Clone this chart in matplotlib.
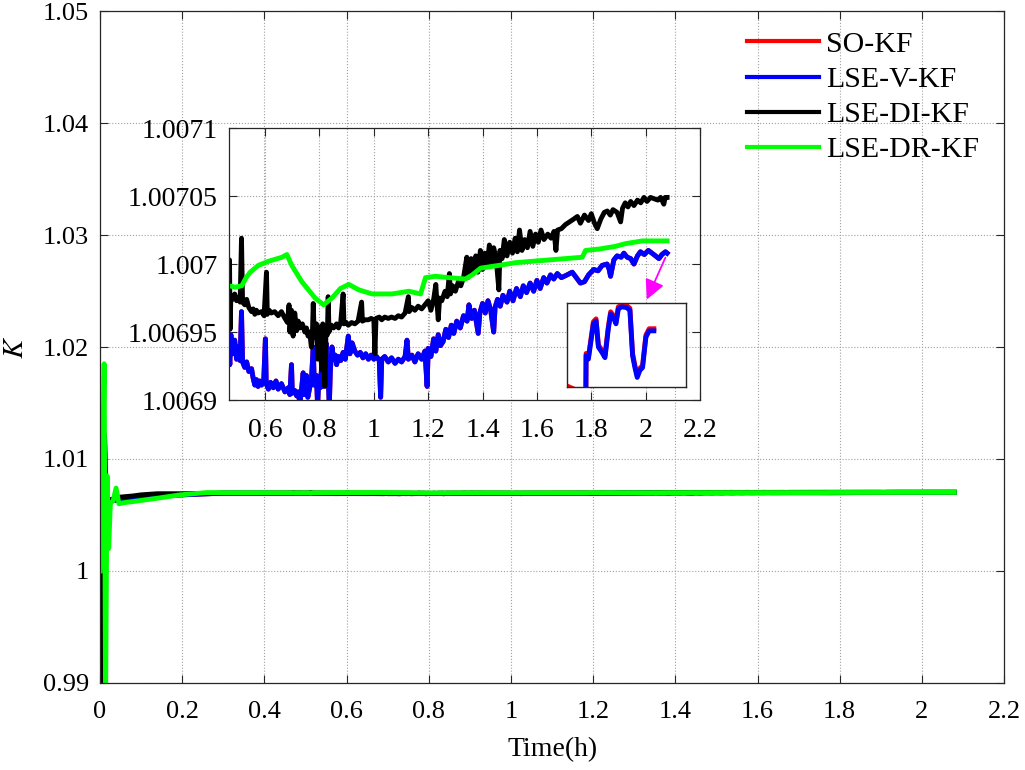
import matplotlib
matplotlib.use("Agg")
import matplotlib.pyplot as plt

plt.rcParams['font.family'] = ['Liberation Serif', 'DejaVu Serif']
plt.rcParams['mathtext.fontset'] = 'stix'

# ---- data ----
labels = ['SO-KF', 'LSE-V-KF', 'LSE-DI-KF', 'LSE-DR-KF']
colors = ['#ff0000', '#0000ff', '#000000', '#00ff00']

# start-up transient (t < 0.47 h), K values
t_green_early = [0.000, 0.005, 0.010, 0.0135, 0.017, 0.021, 0.025, 0.032, 0.039, 0.046,
                 0.058, 0.080, 0.100, 0.140, 0.195, 0.260, 0.330, 0.400]
k_green_early = [1.0000, 1.0050, 1.0185, 0.9880, 1.0085, 1.0020, 1.0060, 1.0063, 1.0074, 1.0060,
                 1.0061, 1.0062, 1.0063, 1.0065, 1.0068, 1.00700, 1.00699, 1.00699]

t_blue_early = [0.000, 0.006, 0.011, 0.015, 0.020, 0.028, 0.040, 0.060, 0.100, 0.150,
                0.200, 0.300, 0.400]
k_blue_early = [1.0000, 0.9890, 1.0120, 1.0062, 1.0058, 1.0064, 1.0063, 1.0064, 1.0066, 1.0067,
                1.0068, 1.00695, 1.00694]

t_red_early = [0.000, 0.006, 0.011, 0.015, 0.020, 0.028, 0.040, 0.060, 0.100, 0.150,
               0.200, 0.300, 0.400]
k_red_early = [1.0000, 0.9890, 1.0122, 1.0063, 1.0058, 1.0064, 1.0063, 1.0064, 1.0066, 1.0067,
               1.0068, 1.00695, 1.00694]

t_black_early = [0.000, 0.006, 0.011, 0.015, 0.020, 0.030, 0.050, 0.080, 0.100, 0.140,
                 0.200, 0.300, 0.400]
k_black_early = [1.0000, 0.9890, 1.0100, 1.0066, 1.0060, 1.0064, 1.0066, 1.0067, 1.0068, 1.0069,
                 1.0069, 1.00695, 1.00697]

# steady part (t >= 0.467 h),
# stored as (K - 1.0069) in units of 1e-5
K_BASE = 1.0069
K_UNIT = 1e-5

t_green = [0.467, 0.490, 0.514, 0.530, 0.545, 0.575, 0.612, 0.662, 0.680, 0.698,
           0.735, 0.784, 0.815, 0.846, 0.877, 0.908, 0.945, 0.994, 1.067, 1.129,
           1.172, 1.190, 1.227, 1.276, 1.337, 1.362, 1.393, 1.460, 1.521, 1.583,
           1.644, 1.705, 1.767, 1.779, 1.828, 1.889, 1.926, 1.988, 2.079]
dk_green = [8.4, 8.3, 8.4, 9.0, 9.4, 9.9, 10.2, 10.5, 10.7, 9.9,
            8.7, 7.5, 7.0, 7.5, 8.2, 8.5, 8.1, 7.8, 7.8, 8.0,
            7.8, 9.0, 9.1, 9.0, 8.9, 9.2, 9.7, 9.9, 10.1, 10.2,
            10.3, 10.4, 10.5, 11.0, 11.1, 11.3, 11.5, 11.7, 11.7]

t_black = [0.467, 0.469, 0.471, 0.474, 0.480, 0.488, 0.495, 0.501, 0.508, 0.513,
           0.517, 0.525, 0.532, 0.540, 0.550, 0.556, 0.562, 0.568, 0.574, 0.587,
           0.596, 0.605, 0.608, 0.615, 0.623, 0.635, 0.648, 0.660, 0.673, 0.682,
           0.688, 0.691, 0.697, 0.703, 0.709, 0.716, 0.722, 0.728, 0.737, 0.746,
           0.752, 0.758, 0.764, 0.770, 0.774, 0.777, 0.781, 0.789, 0.793, 0.797,
           0.802, 0.808, 0.812, 0.816, 0.820, 0.824, 0.829, 0.832, 0.835, 0.844,
           0.852, 0.863, 0.870, 0.878, 0.887, 0.890, 0.898, 0.906, 0.918, 0.930,
           0.942, 0.955, 0.958, 0.968, 0.980, 0.990, 1.000, 1.004, 1.008, 1.020,
           1.029, 1.040, 1.053, 1.065, 1.078, 1.090, 1.102, 1.115, 1.127, 1.130,
           1.140, 1.151, 1.163, 1.176, 1.188, 1.200, 1.210, 1.220, 1.228, 1.232,
           1.237, 1.242, 1.250, 1.262, 1.270, 1.278, 1.282, 1.290, 1.300, 1.311,
           1.320, 1.330, 1.342, 1.346, 1.350, 1.358, 1.366, 1.375, 1.383, 1.392,
           1.400, 1.408, 1.416, 1.425, 1.433, 1.441, 1.450, 1.460, 1.464, 1.472,
           1.480, 1.490, 1.500, 1.510, 1.520, 1.528, 1.536, 1.545, 1.555, 1.565,
           1.575, 1.585, 1.595, 1.605, 1.615, 1.626, 1.640, 1.652, 1.663, 1.670,
           1.676, 1.690, 1.705, 1.720, 1.735, 1.749, 1.760, 1.775, 1.790, 1.800,
           1.812, 1.822, 1.835, 1.848, 1.859, 1.870, 1.880, 1.895, 1.908, 1.915,
           1.925, 1.935, 1.945, 1.957, 1.970, 1.982, 1.994, 2.005, 2.018, 2.031,
           2.045, 2.055, 2.067, 2.072, 2.079]
dk_black = [7.7, 10.3, 5.2, 7.6, 7.4, 7.8, 7.3, 7.5, 7.2, 11.9,
            7.2, 7.0, 7.4, 6.8, 6.5, 6.7, 6.3, 6.6, 6.4, 6.5,
            6.2, 9.4, 6.3, 6.6, 6.4, 6.5, 6.2, 6.5, 6.0, 5.7,
            7.0, 5.0, 6.6, 4.7, 6.4, 5.1, 5.8, 5.3, 5.6, 5.0,
            5.3, 4.7, 5.0, 3.9, 4.9, 7.1, 4.6, 5.6, 3.0, 5.4,
            4.6, 2.2, 5.6, 4.5, 1.0, 5.2, 4.8, 7.6, 5.0, 5.5,
            5.3, 5.6, 5.3, 5.7, 7.8, 5.6, 5.7, 5.5, 5.7, 5.6,
            5.8, 7.2, 5.8, 5.9, 5.9, 6.0, 5.9, 3.4, 6.0, 6.1,
            5.9, 6.1, 6.0, 6.1, 6.0, 6.2, 6.1, 6.4, 7.6, 6.5,
            6.8, 6.6, 6.9, 6.7, 7.0, 7.3, 6.6, 7.4, 8.5, 7.2,
            5.9, 7.5, 7.3, 8.0, 7.6, 9.3, 7.8, 8.4, 8.0, 8.7,
            8.4, 9.0, 10.5, 9.0, 9.6, 10.4, 9.3, 10.6, 9.4, 11.0,
            9.6, 10.8, 9.8, 11.4, 10.0, 11.2, 10.4, 8.1, 11.0, 10.4,
            11.8, 10.6, 11.6, 10.8, 11.9, 10.9, 12.5, 11.0, 11.8, 11.2,
            12.4, 11.3, 12.2, 11.6, 12.5, 11.8, 12.2, 11.9, 12.4, 11.0,
            12.5, 12.6, 12.9, 13.1, 13.3, 13.5, 13.0, 13.6, 13.2, 13.7,
            13.0, 12.6, 13.3, 13.8, 13.9, 13.6, 14.0, 13.8, 13.1, 14.1,
            14.5, 14.2, 14.6, 14.3, 14.7, 14.5, 14.9, 14.6, 14.9, 14.8,
            14.7, 14.9, 14.4, 14.9, 14.9]

t_blue = [0.467, 0.470, 0.474, 0.480, 0.488, 0.495, 0.501, 0.508, 0.513, 0.517,
          0.525, 0.532, 0.540, 0.550, 0.556, 0.562, 0.568, 0.574, 0.580, 0.587,
          0.595, 0.601, 0.604, 0.612, 0.620, 0.630, 0.640, 0.648, 0.660, 0.673,
          0.685, 0.691, 0.697, 0.700, 0.709, 0.716, 0.722, 0.728, 0.734, 0.740,
          0.744, 0.752, 0.757, 0.764, 0.770, 0.777, 0.781, 0.789, 0.793, 0.797,
          0.802, 0.808, 0.812, 0.820, 0.824, 0.828, 0.832, 0.836, 0.840, 0.846,
          0.852, 0.858, 0.863, 0.870, 0.878, 0.887, 0.895, 0.906, 0.912, 0.920,
          0.930, 0.940, 0.950, 0.960, 0.970, 0.980, 0.990, 1.000, 1.010, 1.020,
          1.025, 1.029, 1.040, 1.053, 1.065, 1.078, 1.090, 1.102, 1.115, 1.122,
          1.127, 1.140, 1.151, 1.163, 1.176, 1.188, 1.196, 1.200, 1.210, 1.220,
          1.228, 1.237, 1.245, 1.255, 1.265, 1.275, 1.285, 1.294, 1.305, 1.318,
          1.330, 1.343, 1.350, 1.360, 1.370, 1.380, 1.384, 1.390, 1.400, 1.410,
          1.420, 1.430, 1.441, 1.446, 1.455, 1.465, 1.475, 1.490, 1.500, 1.512,
          1.525, 1.539, 1.550, 1.562, 1.575, 1.588, 1.600, 1.612, 1.625, 1.637,
          1.650, 1.662, 1.675, 1.690, 1.711, 1.730, 1.745, 1.760, 1.775, 1.790,
          1.809, 1.825, 1.840, 1.858, 1.866, 1.871, 1.883, 1.895, 1.910, 1.920,
          1.932, 1.945, 1.957, 1.970, 1.981, 1.995, 2.010, 2.030, 2.049, 2.060,
          2.073, 2.079]
dk_blue = [3.8, 2.6, 4.8, 3.4, 4.4, 3.0, 3.9, 2.9, 6.5, 2.8,
           2.4, 2.8, 2.1, 2.3, 1.6, 1.1, 1.5, 1.0, 1.4, 1.1,
           1.5, 4.5, 1.2, 0.8, 1.3, 0.9, 1.4, 0.8, 1.2, 0.6,
           0.9, 0.4, 2.6, 0.5, 0.7, 0.3, 0.6, -0.3, 0.8, 2.0,
           0.4, 1.8, 0.2, 0.9, 1.3, 3.9, 1.1, 1.8, -0.5, 1.4,
           0.9, 2.4, 1.0, 1.6, 4.2, 1.5, 1.9, -0.5, 2.2, 3.9,
           3.0, 3.3, 2.6, 3.2, 2.9, 3.5, 3.0, 4.7, 3.4, 4.2,
           3.6, 3.3, 3.5, 3.1, 3.4, 3.0, 3.3, 3.0, 3.2, 2.9,
           0.2, 3.0, 3.2, 2.8, 3.1, 2.7, 3.0, 2.8, 3.2, 4.4,
           3.0, 3.3, 2.8, 3.4, 3.0, 3.6, 1.0, 3.8, 3.2, 4.5,
           3.6, 4.8, 4.0, 4.3, 5.2, 4.6, 5.5, 4.9, 5.8, 5.3,
           6.2, 5.8, 7.0, 6.0, 6.6, 5.4, 4.9, 6.4, 7.1, 6.4,
           7.3, 6.6, 5.0, 6.8, 7.4, 6.9, 7.7, 7.2, 8.0, 7.3,
           8.2, 7.6, 8.4, 7.9, 8.6, 8.0, 8.8, 8.2, 9.0, 8.6,
           9.2, 8.9, 9.3, 9.0, 9.2, 9.4, 9.0, 8.6, 8.7, 9.2,
           9.6, 9.5, 9.9, 10.0, 9.6, 9.1, 10.3, 10.6, 10.5, 10.8,
           10.5, 10.4, 10.0, 10.6, 10.9, 10.7, 11.0, 10.7, 10.4, 10.7,
           10.9, 10.8]

# SO-KF lies under LSE-V-KF at this scale (only visible in the small zoom box)
t_red = t_blue
dk_red = dk_blue

# small zoom box (red just above blue), (K - 1.0069) in units of 1e-6
t_zoom = [1.900, 1.9320, 1.9324, 1.9363, 1.9447, 1.9492, 1.9531, 1.9587, 1.9642, 1.9698,
          1.9737, 1.9782, 1.9827, 1.9866, 1.9922, 2.0006, 2.0061, 2.0106, 2.0145, 2.0184,
          2.0229, 2.0274, 2.0330, 2.0385, 2.0464]
dk_zoom_blue = [-1.0, -1.0, 4.5, 4.0, 9.0, 9.4, 5.7, 5.0, 4.2, 8.3,
                10.4, 9.9, 9.0, 11.1, 11.4, 11.3, 10.9, 4.5, 2.8, 1.4,
                2.4, 2.8, 7.1, 8.0, 8.0]
dk_zoom_red = [0.2, -1.0, 4.8, 4.3, 9.3, 9.7, 6.0, 5.3, 4.5, 8.6,
               10.7, 10.2, 9.3, 11.4, 11.7, 11.6, 11.2, 4.8, 3.1, 1.7,
               2.7, 3.1, 7.4, 8.3, 8.3]

main_xticks = [0, 0.2, 0.4, 0.6, 0.8, 1, 1.2, 1.4, 1.6, 1.8, 2, 2.2]
main_yticks = [0.99, 1, 1.01, 1.02, 1.03, 1.04, 1.05]
inset_xticks = [0.6, 0.8, 1, 1.2, 1.4, 1.6, 1.8, 2, 2.2]
inset_yticks = [1.0069, 1.00695, 1.007, 1.00705, 1.0071]
inset_ylabels = ['1.0069', '1.00695', '1.007', '1.00705', '1.0071']


def to_k(dk, unit=K_UNIT):
    return [K_BASE + d * unit for d in dk]


series = [
    (t_red_early + t_red, k_red_early + to_k(dk_red)),
    (t_blue_early + t_blue, k_blue_early + to_k(dk_blue)),
    (t_black_early + t_black, k_black_early + to_k(dk_black)),
    (t_green_early + t_green, k_green_early + to_k(dk_green)),
]

FS = 19
LW = 3.5


def style_axes(ax, fs=FS):
    ax.tick_params(direction='in', which='both', top=True, right=True,
                   labelsize=fs, length=6, width=0.8, colors='#262626')
    ax.tick_params(axis='x', pad=13)
    ax.tick_params(axis='y', pad=8)
    ax.tick_params(labelcolor='black')
    for s in ax.spines.values():
        s.set_linewidth(0.9)
        s.set_color('#262626')
    ax.grid(True, linestyle=':', color='#a0a0a0', linewidth=0.8)


fig = plt.figure(figsize=(10.25, 7.7), dpi=100)

# main axes
ax = fig.add_axes([0.0976, 0.113, 0.882, 0.8727])
for (t, k), c, lab in zip(series, colors, labels):
    ax.plot(t, k, color=c, linewidth=LW, label=lab)
ax.set_xlim(0, 2.2)
ax.set_ylim(0.99, 1.05)
ax.set_xticks(main_xticks)
ax.set_xticklabels([f'{v:g}' for v in main_xticks])
ax.set_yticks(main_yticks)
ax.set_yticklabels([f'{v:g}' for v in main_yticks])
style_axes(ax)
ax.set_xlabel('Time(h)', fontsize=FS + 1, labelpad=10)
ax.set_ylabel('$K$', fontsize=FS + 2, labelpad=10)
leg = ax.legend(loc='upper left', bbox_to_anchor=(0.729, 0.960), bbox_transform=fig.transFigure,
                frameon=False, fontsize=FS + 2.5, handlelength=2.4, handletextpad=0.25,
                labelspacing=0.28, borderaxespad=0, borderpad=0)
for line in leg.get_lines():
    line.set_linewidth(3.0)

# inset
axi = fig.add_axes([0.2234, 0.4805, 0.4595, 0.3532])
axi.set_facecolor('none')
for (t, k), c in zip(series, colors):
    axi.plot(t, k, color=c, linewidth=LW)
axi.set_xlim(0.467, 2.2)
axi.set_ylim(1.0069, 1.0071)
axi.set_xticks(inset_xticks)
axi.set_xticklabels([f'{v:g}' for v in inset_xticks])
axi.set_yticks(inset_yticks)
axi.set_yticklabels(inset_ylabels)
style_axes(axi, FS + 1)
axi.annotate('', xy=(2.0, 1.006972), xytext=(2.077, 1.0070066),
             arrowprops=dict(arrowstyle='-|>', color='#ff00ff', lw=1.3, mutation_scale=30))

# small zoom box inside the inset
axz = fig.add_axes([0.553, 0.497, 0.116, 0.110])
axz.plot(t_zoom, to_k(dk_zoom_red, 1e-6), color=colors[0], linewidth=LW)
axz.plot(t_zoom, to_k(dk_zoom_blue, 1e-6), color=colors[1], linewidth=LW)
axz.set_xlim(1.90, 2.10)
axz.set_ylim(1.0069, 1.006912)
axz.set_xticks([])
axz.set_yticks([])
for s in axz.spines.values():
    s.set_linewidth(1.0)
    s.set_color('#262626')

fig.savefig('out.png', dpi=100)
